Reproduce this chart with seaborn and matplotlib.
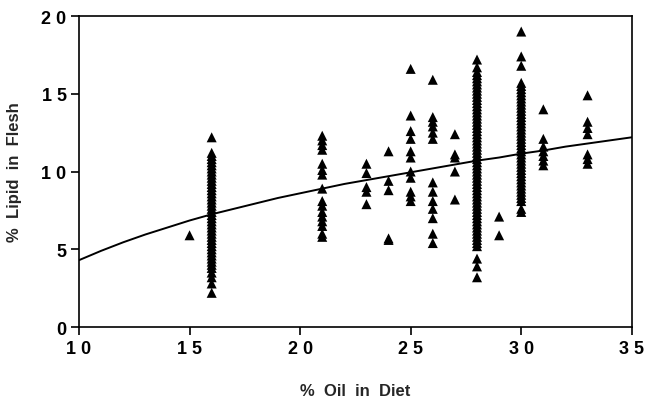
import pandas as pd
import matplotlib
matplotlib.use("Agg")
import matplotlib.pyplot as plt
import seaborn as sns

# --- datos: % aceite en la dieta vs % lípido en carne ---
x15 = [5.9]
x16 = [12.2, 11.2, 11.0, 10.8, 10.6, 10.4, 10.2, 10.0, 9.8, 9.6, 9.4, 9.2, 9.0,
       8.8, 8.6, 8.4, 8.2, 8.0, 7.8, 7.6, 7.4, 7.2, 7.0, 6.8, 6.6, 6.4, 6.2, 6.0,
       5.8, 5.6, 5.4, 5.2, 5.0, 4.8, 4.6, 4.4, 4.2, 4.0, 3.8, 3.5, 3.2, 2.8, 2.2]
x21 = [12.3, 12.0, 11.7, 11.4, 10.5, 10.1, 9.8, 8.9, 8.1, 7.8, 7.4, 7.1,
       6.8, 6.5, 6.0, 5.8]
x23 = [10.5, 9.9, 9.0, 8.7, 7.9]
x24 = [11.3, 9.4, 8.8, 5.7, 5.6]
x25 = [16.6, 13.6, 12.6, 12.1, 11.3, 10.9, 10.0, 9.6, 8.7, 8.4, 8.1]
x26 = [15.9, 13.5, 13.2, 12.9, 12.5, 12.1, 9.3, 8.7, 8.1, 7.6, 7.0, 6.0, 5.4]
x27 = [12.4, 11.1, 10.9, 10.0, 8.2]
x28 = [17.2, 16.7, 16.4, 16.2, 16.0, 15.8, 15.6, 15.4, 15.2, 15.0, 14.8, 14.6,
       14.4, 14.2, 14.0, 13.8, 13.6, 13.4, 13.2, 13.0, 12.8, 12.6, 12.4, 12.2,
       12.0, 11.8, 11.6, 11.4, 11.2, 11.0, 10.8, 10.6, 10.4, 10.2, 10.0, 9.8,
       9.6, 9.4, 9.2, 9.0, 8.8, 8.6, 8.4, 8.2, 8.0, 7.8, 7.6, 7.4, 7.2, 7.0,
       6.8, 6.6, 6.4, 6.2, 6.0, 5.8, 5.6, 5.4, 5.2, 4.4, 3.9, 3.2]
x29 = [7.1, 5.9]
x30 = [19.0, 17.4, 16.8, 15.7, 15.5, 15.3, 15.1, 14.9, 14.7, 14.5, 14.3, 14.1,
       13.9, 13.7, 13.5, 13.3, 13.1, 12.9, 12.7, 12.5, 12.3, 12.1, 11.9, 11.7,
       11.5, 11.3, 11.1, 10.9, 10.7, 10.5, 10.3, 10.1, 9.9, 9.7, 9.5, 9.3, 9.1,
       8.9, 8.7, 8.5, 8.3, 8.1, 7.6, 7.4]
x31 = [14.0, 12.1, 11.6, 11.3, 11.0, 10.7, 10.4]
x33 = [14.9, 13.2, 12.8, 12.4, 11.1, 10.8, 10.5]

# curva ajustada (leída punto a punto)
curva_x = [10, 11, 12, 13, 14, 15, 16, 17, 18, 19, 20, 21, 22, 23, 24, 25,
           26, 27, 28, 29, 30, 31, 32, 33, 34, 35]
curva_y = [4.3, 4.9, 5.45, 5.95, 6.4, 6.85, 7.25, 7.6, 7.95, 8.3, 8.6, 8.9,
           9.2, 9.45, 9.7, 9.95, 10.2, 10.45, 10.7, 10.9, 11.15, 11.35, 11.6,
           11.8, 12.0, 12.2]

xticks = [10, 15, 20, 25, 30, 35]
xtick_labels = ["1 0", "1 5", "2 0", "2 5", "3 0", "3 5"]
yticks = [0, 5, 10, 15, 20]
ytick_labels = ["0", "5", "1 0", "1 5", "2 0"]

grupos = {15: x15, 16: x16, 21: x21, 23: x23, 24: x24, 25: x25, 26: x26,
          27: x27, 28: x28, 29: x29, 30: x30, 31: x31, 33: x33}
df = pd.DataFrame([(k, v) for k, vals in grupos.items() for v in vals],
                  columns=["oil", "lipid"])
curva = pd.DataFrame({"oil": curva_x, "lipid": curva_y})

sns.set_style("ticks")
plt.rcParams["font.family"] = ["Liberation Sans", "DejaVu Sans"]
plt.rcParams["font.weight"] = "bold"

fig = plt.figure(figsize=(6.46, 4.02), dpi=100)
ax = fig.add_axes([0.1223, 0.184, 0.8557, 0.7737])

sns.lineplot(data=curva, x="oil", y="lipid", color="black", linewidth=1.4, ax=ax)
sns.scatterplot(data=df, x="oil", y="lipid", marker="^", color="black",
                s=52, edgecolor="none", ax=ax, zorder=3)

ax.set_xlim(10, 35)
ax.set_ylim(0, 20)
ax.set_xticks(xticks)
ax.set_xticklabels(xtick_labels)
ax.set_yticks(yticks)
ax.set_yticklabels(ytick_labels)
ax.tick_params(direction="out", length=6, width=1.2, labelsize=13, pad=3,
               color="black", labelcolor="black")
for s in ax.spines.values():
    s.set_visible(True)
    s.set_color("black")
    s.set_linewidth(1.2)

ax.set_xlabel("%  Oil  in  Diet", fontsize=12, fontweight="bold")
ax.set_ylabel("%  Lipid  in  Flesh", fontsize=12, fontweight="bold")
ax.xaxis.set_label_coords(0.5, -0.18)
ax.yaxis.set_label_coords(-0.103, 0.5)

fig.savefig("out.png", dpi=100)
